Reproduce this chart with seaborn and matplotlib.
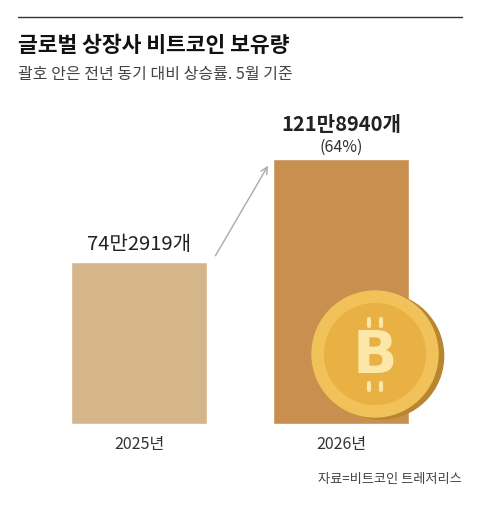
import matplotlib.pyplot as plt
import seaborn as sns
import pandas as pd
from matplotlib.patches import Circle, FancyArrowPatch

years = ["2025년", "2026년"]
holdings = [742919, 1218940]
value_labels = ["74만2919개", "121만8940개"]
change_label = "(64%)"
bar_colors = ["#d5b68b", "#c98f4e"]

sns.set_theme(style="white")
plt.rcParams['font.family'] = ['Noto Sans CJK KR', 'DejaVu Sans']

fig = plt.figure(figsize=(4.8, 5.1), dpi=100)
fig.patch.set_facecolor("white")
# baseline at y=425 px
ax = fig.add_axes([0, (510 - 425) / 510, 1, 265 / 510 * 1.4])
df = pd.DataFrame({"year": years, "val": holdings})
sns.barplot(data=df, x="year", y="val", hue="year", palette=bar_colors,
            legend=False, ax=ax, width=0.675, saturation=1)
ax.set_xlim(-0.692, 1.69)
ax.set_ylim(0, holdings[1] * 1.4)
ax.axis("off")

ax.text(0, holdings[0] + 40000, value_labels[0], ha="center", va="bottom", fontsize=14.5, color="#222")
ax.text(1, holdings[1] + 115000, value_labels[1], ha="center", va="bottom", fontsize=14.5,
        fontweight="bold", color="#222")
ax.text(1, holdings[1] + 20000, change_label, ha="center", va="bottom", fontsize=11.5, color="#333")

arrow = FancyArrowPatch((0.37, holdings[0] + 20000), (0.645, holdings[1] - 20000),
                        arrowstyle="->", mutation_scale=12, color="#aaaaaa", lw=1)
ax.add_patch(arrow)

# bitcoin coin
cax = fig.add_axes([305 / 480, (510 - 425) / 510, 140 / 480, 140 / 510])
cax.set_xlim(-1, 1)
cax.set_ylim(-1, 1)
cax.set_aspect("equal")
cax.axis("off")
cax.add_patch(Circle((0.08, -0.03), 0.9, color="#b8862e"))
cax.add_patch(Circle((0, 0), 0.9, color="#f2c25a"))
cax.add_patch(Circle((0, 0), 0.72, color="#e9b043"))
cax.text(0, -0.02, "B", ha="center", va="center", fontsize=42, fontweight="bold",
         color="#fbe7a8", family="DejaVu Sans")
for dx in (-0.08, 0.08):
    cax.plot([dx, dx], [0.4, 0.5], color="#fbe7a8", lw=3)
    cax.plot([dx, dx], [-0.52, -0.42], color="#fbe7a8", lw=3)

fig.add_artist(plt.Line2D([18 / 480, 462 / 480], [1 - 18 / 510, 1 - 18 / 510], color="#333", lw=1))
fig.text(18 / 480, 1 - 45 / 510, "글로벌 상장사 비트코인 보유량", fontsize=15.5, fontweight="bold",
         va="center", color="#111")
fig.text(18 / 480, 1 - 75 / 510, "괄호 안은 전년 동기 대비 상승률. 5월 기준", fontsize=11.5,
         va="center", color="#444")
for i, yr in enumerate(years):
    x = (139.5 + i * 201.5) / 480
    fig.text(x, 1 - 445 / 510, yr, ha="center", va="center", fontsize=11.5, color="#333")
fig.text(462 / 480, 1 - 480 / 510, "자료=비트코인 트레저리스", ha="right", va="center",
         fontsize=9.5, color="#444")

fig.savefig("out.png", dpi=100)
